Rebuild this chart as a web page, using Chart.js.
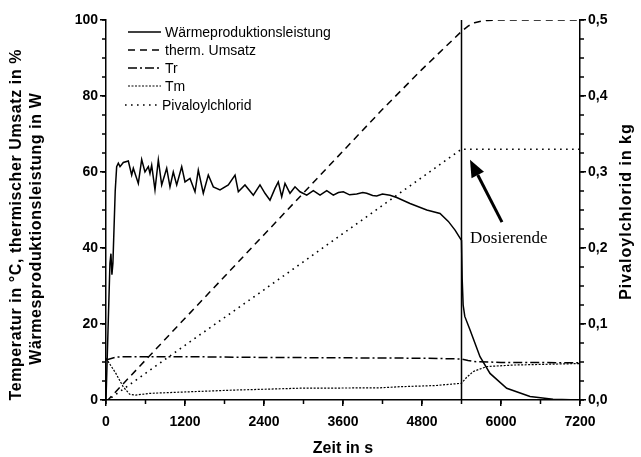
<!DOCTYPE html>
<html><head><meta charset="utf-8">
<script src="https://cdn.jsdelivr.net/npm/chart.js@4.4.1/dist/chart.umd.min.js"></script>
<style>html,body{margin:0;padding:0;background:#fff;} #wrap{width:641px;height:457px;}</style>
</head><body><div id="wrap"><canvas id="c" width="641" height="457"></canvas></div>
<script>
// ---- data ----
const seriesLabels = ['Wärmeproduktionsleistung', 'therm. Umsatz', 'Tr', 'Tm', 'Pivaloylchlorid'];

const powerTime = [0, 30, 60, 75, 90, 105, 140, 162, 187, 213, 263, 339, 390, 415, 491, 542, 592, 643, 668, 694,
  744, 795, 846, 922, 972, 1022, 1074, 1150, 1200, 1276, 1352, 1402, 1478, 1554, 1630, 1732, 1858, 1960, 2010, 2111,
  2238, 2339, 2415, 2491, 2567, 2617, 2669, 2719, 2795, 2871, 2947, 3049, 3149, 3251, 3353, 3453, 3530, 3605, 3700, 3808,
  3900, 3960, 4050, 4112, 4200, 4314, 4416, 4618, 4872, 5074, 5200, 5302, 5378, 5400, 5410, 5425, 5450, 5530, 5681, 5833,
  6087, 6441, 6790, 7200];
const powerValues = [0, 18, 36, 38.5, 33, 36, 55, 61.4, 62.3, 61.4, 62.5, 62.9, 59.2, 61, 57, 63.3, 60, 61.4, 59.6, 61.8,
  55.3, 63.2, 56.6, 61, 56.1, 60, 56.6, 61.4, 57.4, 58.3, 54.8, 60.5, 54.4, 59.2, 56.1, 55.3, 56.6, 59.2, 54.8, 56.6,
  53.9, 56.6, 54.4, 52.6, 55.7, 57.4, 53.5, 57, 54.4, 56.1, 54.8, 53.9, 55.1, 53.9, 55.1, 53.9, 54.6, 54.8, 54.0, 54.2,
  54.6, 54.4, 53.8, 53.7, 54.2, 53.9, 53.3, 51.7, 50, 49.1, 47, 44.7, 42.6, 42, 32, 25, 22, 18.4, 11.4, 7,
  3.1, 0.9, 0.2, 0];

const umsatzTime = [0, 30, 600, 1200, 1800, 2400, 3000, 3600, 4200, 4800, 5400, 5500, 5600, 5700, 5800, 6000, 7200];
const umsatzValues = [0, 0, 10.5, 21.5, 32.5, 43.5, 54.5, 65.5, 76.5, 87, 97, 98.4, 99.3, 99.7, 99.9, 100, 100];

const trTime = [0, 150, 300, 1200, 2400, 3600, 4800, 5400, 5500, 5600, 6000, 7200];
const trValues = [10.5, 11.3, 11.4, 11.4, 11.2, 11.1, 11.0, 10.8, 10.4, 10.1, 9.9, 9.8];

const tmTime = [0, 150, 260, 360, 450, 668, 1326, 1934, 2947, 4162, 4466, 5000, 5400, 5480, 5580, 5783, 6187, 7200];
const tmValues = [11, 7, 3.5, 1.5, 1.3, 1.75, 2.2, 2.6, 3.1, 3.2, 3.5, 3.8, 4.4, 6, 7.5, 8.8, 9.2, 9.6];

const pivTime = [0, 30, 1200, 2400, 3600, 4800, 5400, 7200];
const pivValues = [0, 0, 0.072, 0.145, 0.219, 0.293, 0.33, 0.33];   // kg, right axis

const xTickValues = [0, 1200, 2400, 3600, 4800, 6000, 7200];
const yLeftTickValues = [0, 20, 40, 60, 80, 100];
const yRightTickValues = [0, 0.1, 0.2, 0.3, 0.4, 0.5];
const xMinorStep = 600, yLeftMinorStep = 5, yRightMinorStep = 0.025;

const dosingTime = 5400;
const annotationText = 'Dosierende';
const arrowTail = [6015, 46.8];
const arrowTip = [5529, 63.2];
const annotationPos = [5530, 41.3];

const xTitle = 'Zeit in s';
const yLeftTitle = ['Temperatur in °C, thermischer Umsatz in %', 'Wärmesproduktionsleistung in W'];
const yRightTitle = 'Pivaloylchlorid in kg';

// ---- chart ----
const FONT = "'Liberation Sans', Arial, sans-serif";
const zip = (t, v) => t.map((x, i) => ({ x: x, y: v[i] }));
const base = { borderColor: '#000', backgroundColor: '#000', pointRadius: 0, fill: false, tension: 0 };
const datasets = [
  Object.assign({}, base, { label: seriesLabels[0], data: zip(powerTime, powerValues), borderWidth: 1.5, yAxisID: 'y' }),
  Object.assign({}, base, { label: seriesLabels[1], data: zip(umsatzTime, umsatzValues), borderWidth: 1.5, borderDash: [7, 5], yAxisID: 'y' }),
  Object.assign({}, base, { label: seriesLabels[2], data: zip(trTime, trValues), borderWidth: 1.5, borderDash: [9, 3, 2, 3], yAxisID: 'y' }),
  Object.assign({}, base, { label: seriesLabels[3], data: zip(tmTime, tmValues), borderWidth: 1.2, borderDash: [2, 1.5], yAxisID: 'y' }),
  Object.assign({}, base, { label: seriesLabels[4], data: zip(pivTime, pivValues), borderWidth: 1.6, borderDash: [1.6, 4.4], yAxisID: 'y2' })
];

const tickFont = { family: FONT, size: 14, weight: 'bold' };
const gridCfg = { drawOnChartArea: false, color: '#000', tickLength: 6, lineWidth: 1.5 };
const borderCfg = { color: '#000', width: 1.5 };

function drawRotated(ctx, text, x, y, spacing) {
  ctx.save(); ctx.translate(x, y); ctx.rotate(-Math.PI / 2);
  ctx.letterSpacing = spacing + 'px';
  ctx.fillText(text, spacing / 2, 0);
  ctx.restore();
}

const custom = {
  id: 'custom',
  afterDatasetsDraw(chart) {
    const ctx = chart.ctx, xs = chart.scales.x, ys = chart.scales.y;
    ctx.save();
    ctx.strokeStyle = '#000'; ctx.lineWidth = 1.5; ctx.setLineDash([]);
    const vx = xs.getPixelForValue(dosingTime);
    ctx.beginPath(); ctx.moveTo(vx, ys.getPixelForValue(0)); ctx.lineTo(vx, ys.getPixelForValue(100)); ctx.stroke();
    const tx = xs.getPixelForValue(arrowTail[0]), ty = ys.getPixelForValue(arrowTail[1]);
    const hx = xs.getPixelForValue(arrowTip[0]), hy = ys.getPixelForValue(arrowTip[1]);
    const ang = Math.atan2(hy - ty, hx - tx), hl = 17, hw = 7;
    const bx = hx - hl * Math.cos(ang), by = hy - hl * Math.sin(ang);
    ctx.lineWidth = 3;
    ctx.beginPath(); ctx.moveTo(tx, ty); ctx.lineTo(bx, by); ctx.stroke();
    ctx.fillStyle = '#000';
    ctx.beginPath(); ctx.moveTo(hx, hy);
    ctx.lineTo(bx + hw * Math.sin(ang), by - hw * Math.cos(ang));
    ctx.lineTo(bx - hw * Math.sin(ang), by + hw * Math.cos(ang));
    ctx.closePath(); ctx.fill();
    ctx.font = "17px 'Liberation Serif', 'Times New Roman', serif";
    ctx.textAlign = 'left'; ctx.textBaseline = 'alphabetic';
    ctx.fillText(annotationText, xs.getPixelForValue(annotationPos[0]), ys.getPixelForValue(annotationPos[1]));
    ctx.restore();
  },
  afterDraw(chart) {
    const ctx = chart.ctx, xs = chart.scales.x, ys = chart.scales.y, y2 = chart.scales.y2;
    const a = chart.chartArea;
    ctx.save();
    ctx.strokeStyle = '#000'; ctx.lineWidth = 1.5; ctx.setLineDash([]);
    ctx.beginPath();
    for (let v = 0; v <= 7200; v += xMinorStep) {
      const p = xs.getPixelForValue(v); ctx.moveTo(p, a.bottom); ctx.lineTo(p, a.bottom + 4);
    }
    for (let v = 0; v <= 100; v += yLeftMinorStep) {
      const p = ys.getPixelForValue(v); ctx.moveTo(a.left, p); ctx.lineTo(a.left - 4, p);
    }
    for (let i = 0; i <= 20; i++) {
      const p = y2.getPixelForValue(i * yRightMinorStep); ctx.moveTo(a.right, p); ctx.lineTo(a.right + 4, p);
    }
    ctx.stroke();
    // legend
    ctx.font = '14px ' + FONT; ctx.fillStyle = '#000';
    ctx.textBaseline = 'middle'; ctx.textAlign = 'left';
    const rows = [32, 50, 68, 86, 105];
    chart.data.datasets.forEach((ds, i) => {
      const y = rows[i];
      const x0 = i === 4 ? 125 : 128, x1 = i === 4 ? 158 : 161;
      ctx.lineWidth = ds.borderWidth; ctx.setLineDash(ds.borderDash || []);
      ctx.beginPath(); ctx.moveTo(x0, y); ctx.lineTo(x1, y); ctx.stroke();
      ctx.setLineDash([]);
      ctx.fillText(ds.label, x1 + 4, y + 1);
    });
    // titles
    ctx.font = 'bold 16px ' + FONT; ctx.textAlign = 'center'; ctx.textBaseline = 'middle';
    ctx.fillText(xTitle, (a.left + a.right) / 2, 449);
    drawRotated(ctx, yLeftTitle[0], 17, 225, 0.6);
    drawRotated(ctx, yLeftTitle[1], 37, 229, 0.6);
    drawRotated(ctx, yRightTitle, 627, 212, 1);
    ctx.restore();
  }
};

new Chart(document.getElementById('c'), {
  type: 'line',
  data: { datasets: datasets },
  options: {
    responsive: false, animation: false, devicePixelRatio: 1,
    layout: { padding: { top: 20, left: 0, right: 0, bottom: 0 } },
    plugins: { legend: { display: false }, tooltip: { enabled: false } },
    scales: {
      x: {
        type: 'linear', min: 0, max: 7200,
        afterBuildTicks: s => { s.ticks = xTickValues.map(v => ({ value: v })); },
        ticks: { font: tickFont, color: '#000', padding: 8, maxRotation: 0, autoSkip: false, callback: v => String(v) },
        grid: gridCfg, border: borderCfg,
        afterFit: s => { s.height = 57; s.paddingLeft = 0; s.paddingRight = 0; }
      },
      y: {
        position: 'left', min: 0, max: 100,
        afterBuildTicks: s => { s.ticks = yLeftTickValues.map(v => ({ value: v })); },
        ticks: { font: tickFont, color: '#000', padding: 2, callback: v => String(v) },
        grid: gridCfg, border: borderCfg,
        afterFit: s => { s.width = 106; s.paddingTop = 0; s.paddingBottom = 0; }
      },
      y2: {
        position: 'right', min: 0, max: 0.5,
        afterBuildTicks: s => { s.ticks = yRightTickValues.map(v => ({ value: v })); },
        ticks: { font: tickFont, color: '#000', padding: 2, callback: v => v.toFixed(1).replace('.', ',') },
        grid: gridCfg, border: borderCfg,
        afterFit: s => { s.width = 61; s.paddingTop = 0; s.paddingBottom = 0; }
      }
    }
  },
  plugins: [custom]
});
</script>
</body></html>
